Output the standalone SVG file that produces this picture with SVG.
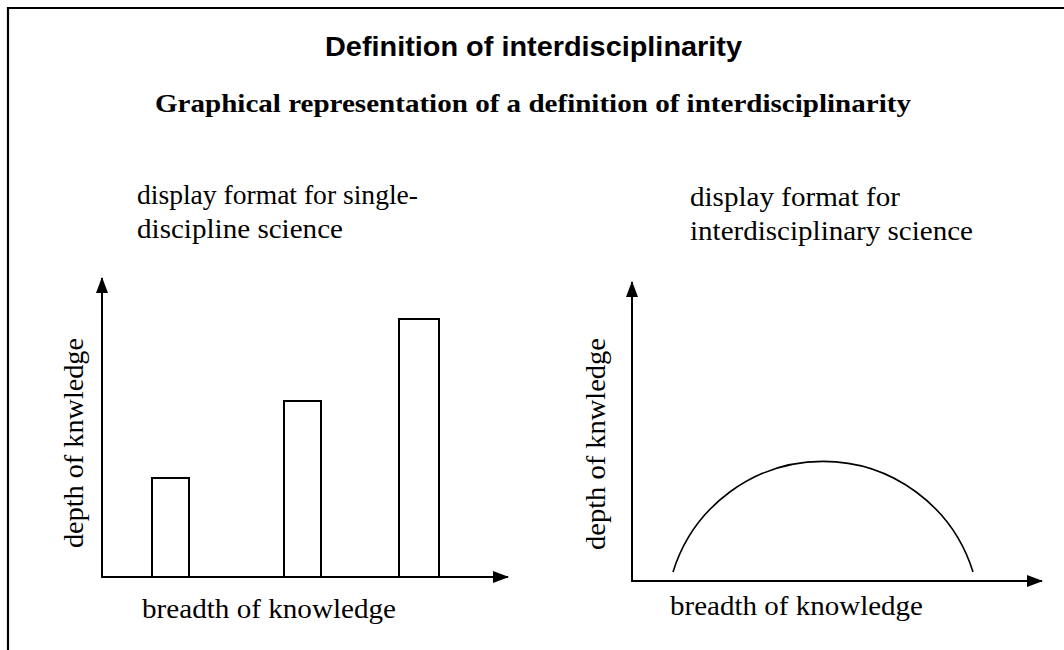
<svg xmlns="http://www.w3.org/2000/svg" width="1064" height="650" viewBox="0 0 1064 650">
<style>
.title{font-family:"Liberation Sans",Arial,sans-serif;font-weight:bold;font-size:28px;fill:#000}
.sub{font-family:"Liberation Serif","Times New Roman",serif;font-weight:bold;font-size:26px;fill:#000}
.lbl{font-family:"Liberation Serif","Times New Roman",serif;font-size:27px;fill:#000}
.axis{stroke:#000;stroke-width:2;fill:none}
.bar{stroke:#000;stroke-width:2;fill:#fff}
.curve{stroke:#000;stroke-width:1.6;fill:none}
.frame{stroke:#000;stroke-width:2.2;fill:none}
</style>
<defs>
<marker id="arr" markerUnits="userSpaceOnUse" markerWidth="16" markerHeight="12" refX="15" refY="6" orient="auto">
<path d="M0,0 L16,6 L0,12 z" fill="#000"/>
</marker>
</defs>
<rect width="1064" height="650" fill="#fff"/>
<path class="frame" d="M8,650 L8,8 L1064,8"/>
<g id="title">
<text class="title" x="325" y="56" textLength="417" lengthAdjust="spacingAndGlyphs">Definition of interdisciplinarity</text>
</g>
<g id="subtitle">
<text class="sub" x="155" y="112" textLength="756" lengthAdjust="spacingAndGlyphs">Graphical representation of a definition of interdisciplinarity</text>
</g>
<g id="left-chart">
<text class="lbl" x="137" y="204" textLength="281" lengthAdjust="spacingAndGlyphs">display format for single-</text>
<text class="lbl" x="137" y="238" textLength="206" lengthAdjust="spacingAndGlyphs">discipline science</text>
<text class="lbl" transform="translate(83,443) rotate(-90)" text-anchor="middle" textLength="210" lengthAdjust="spacingAndGlyphs">depth of knwledge</text>
<text class="lbl" x="142" y="618" textLength="254" lengthAdjust="spacingAndGlyphs">breadth of knowledge</text>
<rect class="bar" x="152" y="478" width="37" height="99"/>
<rect class="bar" x="284" y="401" width="37" height="176"/>
<rect class="bar" x="399" y="319" width="40" height="258"/>
</g>
<g id="right-chart">
<text class="lbl" x="690" y="206" textLength="210" lengthAdjust="spacingAndGlyphs">display format for</text>
<text class="lbl" x="690" y="240" textLength="283" lengthAdjust="spacingAndGlyphs">interdisciplinary science</text>
<text class="lbl" transform="translate(605,444) rotate(-90)" text-anchor="middle" textLength="212" lengthAdjust="spacingAndGlyphs">depth of knwledge</text>
<text class="lbl" x="670" y="615" textLength="253" lengthAdjust="spacingAndGlyphs">breadth of knowledge</text>
<path class="curve" d="M673,572 A157,157 0 0 1 973,572"/>
</g>
<g id="connectors">
<line class="axis" x1="102" y1="577" x2="102" y2="278" marker-end="url(#arr)"/>
<line class="axis" x1="101" y1="577" x2="508" y2="577" marker-end="url(#arr)"/>
<line class="axis" x1="632" y1="581" x2="632" y2="282" marker-end="url(#arr)"/>
<line class="axis" x1="631" y1="581" x2="1042" y2="581" marker-end="url(#arr)"/>
</g>
</svg>
